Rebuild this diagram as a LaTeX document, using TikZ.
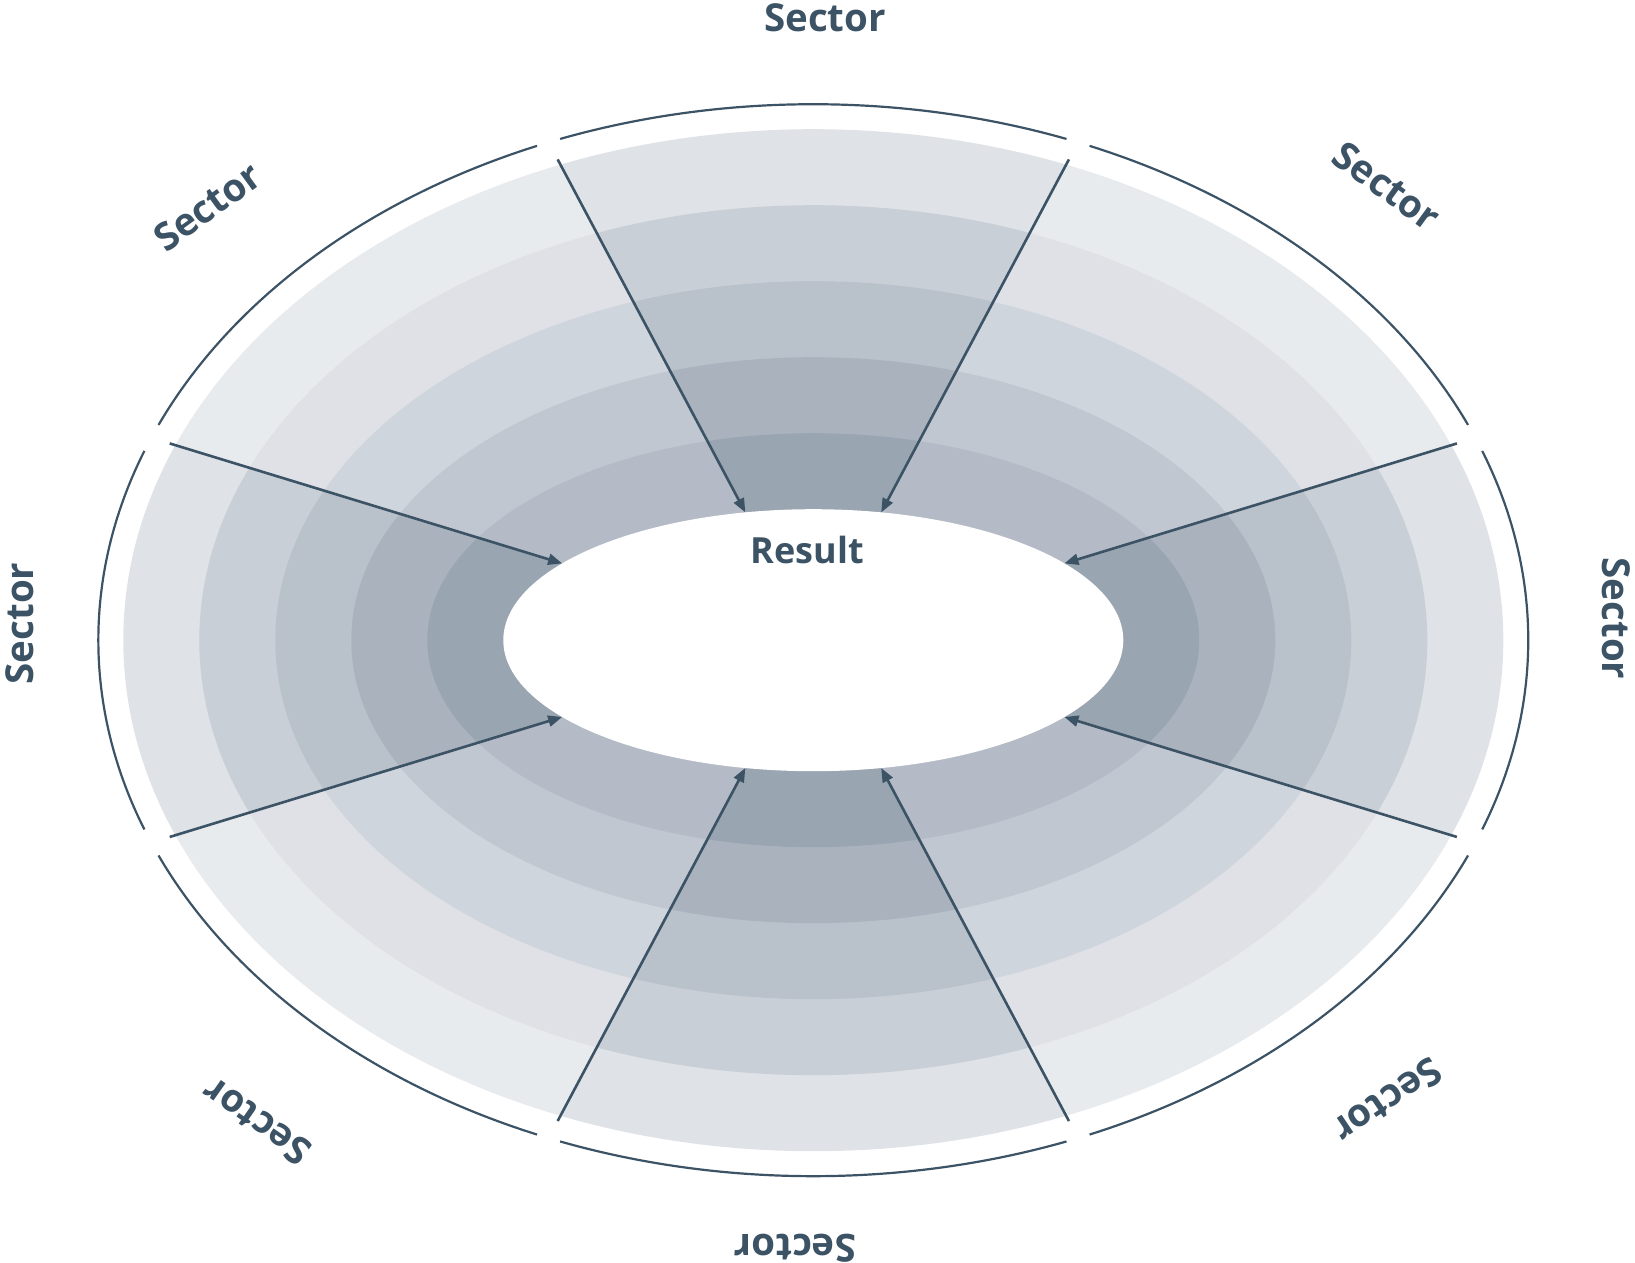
\documentclass[tikz,border=0pt]{standalone}
\usepackage{fontspec}
\setmainfont{Open Sans}
\usepackage{xcolor}
\usepackage{tikz}
\usetikzlibrary{arrows.meta}

\definecolor{ink}{HTML}{3C5366}
\definecolor{side0}{HTML}{DFE3E7}
\definecolor{side1}{HTML}{C9CFD7}
\definecolor{side2}{HTML}{B9C1CB}
\definecolor{side3}{HTML}{AAB2BE}
\definecolor{side4}{HTML}{99A5B1}
\definecolor{diag0}{HTML}{E8EBEE}
\definecolor{diag1}{HTML}{DFE1E6}
\definecolor{diag2}{HTML}{CFD5DC}
\definecolor{diag3}{HTML}{C0C7D0}
\definecolor{diag4}{HTML}{B4BBC6}

\tikzset{
  spoke/.style={draw=ink, line width=2.6pt, -{Triangle[length=14pt,width=11pt]}},
  rim/.style={draw=ink, line width=2.2pt},
  sectorlabel/.style={text=ink, font=\fontsize{38.5}{46}\selectfont\bfseries, inner sep=0pt},
}

\begin{document}
\begin{tikzpicture}[x=1pt,y=1pt]
  \useasboundingbox (-813.3,-621.8) rectangle (821.7,640.2);
  \foreach \sa/\sb/\kind in {-17/17/side,17/62/diag,62/118/side,118/163/diag,163/197/side,197/242/diag,242/298/side,298/343/diag}{
    \begin{scope}
      \clip (0,0) -- (\sa:1200) -- ({(\sa+\sb)/2}:1200) -- (\sb:1200) -- cycle;
      \foreach \k in {0,...,4}
        \fill[fill=\kind\k] (0,0) ellipse [x radius={690-76*\k}, y radius={511-76*\k}];
    \end{scope}
  }
  \fill[white] (0,0) ellipse [x radius=310, y radius=131];
  \foreach \ta/\tb in {17/62,62/118,118/163,163/197,197/242,242/298,298/343,343/377}{
    \pgfmathsetmacro\ua{atan2(715*sin(\ta+1.2),536*cos(\ta+1.2))}
    \pgfmathsetmacro\ub{atan2(715*sin(\tb-1.2),536*cos(\tb-1.2))}
    \pgfmathsetmacro\ub{ifthenelse(\ub<\ua,\ub+360,\ub)}
    \draw[rim] ({715*cos(\ua)},{536*sin(\ua)}) arc[start angle=\ua, end angle=\ub, x radius=715, y radius=536];
  }
  \foreach \t [count=\i] in {17,62,118,163,197,242,298,343}{
    \pgfmathsetmacro\pout{atan2(696*sin(\t),517*cos(\t))}
    \pgfmathsetmacro\pin{atan2(310*sin(\t),131*cos(\t))}
    \coordinate (out\i) at ({696*cos(\pout)},{517*sin(\pout)});
    \coordinate (in\i) at ({310*cos(\pin)},{131*sin(\pin)});
    \draw[spoke] (out\i) -- (in\i);
  }
  \foreach \x/\y/\r [count=\i] in {11.7/622.7/0,573.5/454.1/-36,803.4/21.7/-90,574.5/-460.8/-146,-18/-608.3/180,-557/-481.5/145,-793.5/16.7/90,-605.8/433.7/36}
    \node[sectorlabel, rotate=\r] (sector\i) at (\x,\y) {Sector};
  \node[sectorlabel, font=\fontsize{36}{43}\selectfont\bfseries] (result) at (-5.8,90.2) {Result};
\end{tikzpicture}
\end{document}
